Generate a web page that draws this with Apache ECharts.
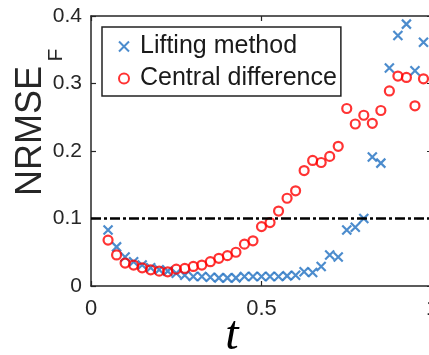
<!DOCTYPE html>
<html>
<head>
<meta charset="utf-8">
<script src="https://cdn.jsdelivr.net/npm/echarts@6/dist/echarts.min.js"></script>
<style>html,body{margin:0;padding:0;background:#fff}#c{width:429px;height:355px}</style>
</head>
<body>
<div id="c"></div>
<script>
var tValues = [0.05,0.075,0.1,0.125,0.15,0.175,0.2,0.225,0.25,0.275,0.3,0.325,0.35,0.375,0.4,0.425,0.45,0.475,0.5,0.525,0.55,0.575,0.6,0.625,0.65,0.675,0.7,0.725,0.75,0.775,0.8,0.825,0.85,0.875,0.9,0.925,0.95,0.975];
var liftingValues = [0.083,0.058,0.043,0.036,0.031,0.027,0.024,0.022,0.019,0.016,0.014,0.014,0.013,0.012,0.012,0.012,0.014,0.014,0.014,0.014,0.014,0.015,0.016,0.021,0.020,0.029,0.046,0.043,0.083,0.087,0.100,0.191,0.182,0.323,0.371,0.388,0.319,0.361];
var centralValues = [0.068,0.046,0.034,0.031,0.027,0.024,0.022,0.021,0.025,0.026,0.029,0.031,0.036,0.041,0.045,0.050,0.062,0.067,0.088,0.094,0.111,0.130,0.141,0.171,0.186,0.183,0.192,0.207,0.263,0.240,0.253,0.241,0.260,0.289,0.311,0.309,0.267,0.307];
var thresholdValue = 0.1;
var xTicks = [0, 0.5, 1];
var yTicks = [0, 0.1, 0.2, 0.3, 0.4];
var seriesNames = ['Lifting method', 'Central difference'];

function pairs(xs, ys){ return xs.map(function(x,i){ return [x, ys[i]]; }); }

var axisColor = '#262626';
var chart = echarts.init(document.getElementById('c'), null, {renderer:'canvas'});
var baseX = {
  type:'value', min:0, max:1, interval:0.5,
  axisLine:{show:true, onZero:false, lineStyle:{color:axisColor, width:1.5}},
  axisTick:{show:true, inside:true, length:5, lineStyle:{color:axisColor, width:1.2}},
  splitLine:{show:false}
};
var baseY = {
  type:'value', min:0, max:0.4, interval:0.1,
  axisLine:{show:true, onZero:false, lineStyle:{color:axisColor, width:1.5}},
  axisTick:{show:true, inside:true, length:5, lineStyle:{color:axisColor, width:1.2}},
  splitLine:{show:false}
};
chart.setOption({
  animation:false,
  grid:{left:91, top:16, width:341, height:270, containLabel:false, outerBoundsMode:'none'},
  xAxis:[
    Object.assign({}, baseX, {position:'bottom',
      axisLabel:{show:true, fontSize:22, color:axisColor, fontFamily:'Liberation Sans', margin:12,
        formatter:function(v){ return xTicks.indexOf(v) >= 0 ? String(v) : ''; }}}),
    Object.assign({}, baseX, {position:'top', axisLabel:{show:false}})
  ],
  yAxis:[
    Object.assign({}, baseY, {position:'left',
      axisLabel:{show:true, fontSize:21, color:axisColor, fontFamily:'Liberation Sans', margin:9,
        formatter:function(v){ var r = Math.round(v*10)/10; return r === 0 ? '0' : r.toFixed(1); }}}),
    Object.assign({}, baseY, {position:'right', axisLabel:{show:false}})
  ],
  legend:{
    orient:'vertical', left:102, top:27,
    data:seriesNames,
    borderColor:'#222', borderWidth:1.5, borderRadius:0,
    padding:[7, 4, 5, 16], itemGap:7,
    itemWidth:10, itemHeight:10,
    textStyle:{fontSize:25, color:'#1a1a1a', fontFamily:'Liberation Sans', padding:[0,0,0,6]}
  },
  graphic:[
    {type:'text', x:31, y:131, rotation:Math.PI/2,
      style:{text:'NRMSE', fontSize:36, fontFamily:'Liberation Sans', fill:'#262626', align:'center', verticalAlign:'middle'}},
    {type:'text', x:56, y:55, rotation:Math.PI/2,
      style:{text:'F', fontSize:21, fontFamily:'Liberation Sans', fill:'#262626', align:'center', verticalAlign:'middle'}},
    {type:'text', x:232, y:336,
      style:{text:'t', fontSize:48, fontStyle:'italic', fontFamily:'Liberation Serif', fill:'#000', align:'center', verticalAlign:'middle'}}
  ],
  series:[
    {name:seriesNames[0], type:'scatter', xAxisIndex:0, yAxisIndex:0,
      data:pairs(tValues, liftingValues),
      symbol:'path://M0,0L10,10M10,0L0,10', symbolSize:9,
      itemStyle:{color:'rgba(0,0,0,0)', borderColor:'#1f6fc0', borderWidth:2.2},
      markLine:{silent:true, symbol:['none','none'], label:{show:false},
        lineStyle:{color:'#000', width:2.5, type:[10,3,3,3]},
        data:[{yAxis:thresholdValue}]}
    },
    {name:seriesNames[1], type:'scatter', xAxisIndex:0, yAxisIndex:0,
      data:pairs(tValues, centralValues),
      symbol:'circle', symbolSize:9,
      itemStyle:{color:'rgba(0,0,0,0)', borderColor:'#ff0000', borderWidth:2.2}
    }
  ]
});
</script>
</body>
</html>
